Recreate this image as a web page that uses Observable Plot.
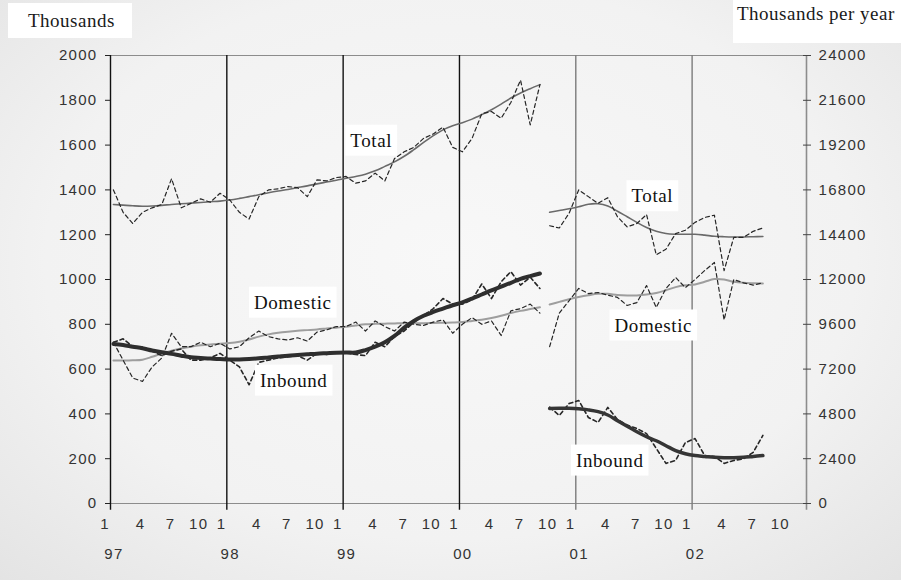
<!DOCTYPE html>
<html>
<head>
<meta charset="utf-8">
<script src="https://cdn.jsdelivr.net/npm/d3@7"></script>
<script src="https://cdn.jsdelivr.net/npm/@observablehq/plot@0.6"></script>
<style>
  body { margin: 0; background: #fff; }
  #wrap { position: relative; width: 901px; height: 580px; overflow: hidden;
    background: radial-gradient(ellipse 75% 80% at 50% 45%, #f8f8f8 0%, #f2f2f2 60%, #e2e2e2 100%); }
  #wrap svg { position: absolute; left: 0; top: 0; }
  .hdr { position: absolute; background: #fff; font-family: "Liberation Serif", serif; font-size: 19px;
    color: #1a1a1a; letter-spacing: 0.5px; white-space: nowrap; }
</style>
</head>
<body>
<div id="wrap">
  <div class="hdr" style="left:8px;top:3px;width:104px;height:35px;line-height:35px;padding-left:20px;">Thousands</div>
  <div class="hdr" style="left:733px;top:0;width:164px;height:43px;line-height:28px;padding-left:4px;">Thousands per year</div>
</div>
<script>
// Month index 0 = Jan 1997. Segment 1: Jan 1997 – Sep 2000, segment 2: Oct 2000 – Aug 2002
const seg1Start = 0;
const seg2Start = 45;

const totalRaw1 = [1400,1300,1250,1300,1320,1335,1450,1320,1340,1360,1345,1385,
  1355,1300,1270,1370,1400,1405,1415,1410,1370,1445,1440,1455,
  1460,1430,1440,1475,1440,1540,1570,1590,1630,1650,1680,1590,
  1570,1630,1740,1750,1720,1790,1890,1690,1870];
const totalTrend1 = [1335,1332,1329,1327,1328,1331,1335,1338,1341,1344,1347,1350,
  1355,1362,1370,1378,1387,1395,1402,1410,1418,1427,1435,1443,
  1452,1460,1470,1485,1505,1525,1550,1580,1612,1642,1668,1686,
  1700,1716,1736,1758,1783,1810,1833,1852,1870];
const domesticRaw1 = [720,640,560,545,610,650,760,700,700,720,700,715,
  690,700,740,770,745,735,730,740,725,765,775,790,
  790,810,770,815,790,770,810,800,795,810,820,760,
  800,830,800,815,750,860,870,890,850];
const domesticTrend1 = [638,638,639,642,655,670,682,692,700,706,710,713,
  716,722,732,745,755,762,767,771,774,777,781,785,
  789,795,800,802,803,804,805,805,805,806,807,808,
  810,815,820,828,838,850,860,868,876];
const inboundRaw1 = [720,735,700,700,680,660,680,690,640,640,650,670,
  640,610,530,630,640,650,655,660,640,670,665,675,
  672,665,660,720,700,745,770,810,840,870,915,890,
  890,910,980,915,990,1035,975,1010,960];
const inboundTrend1 = [712,708,700,693,683,675,668,660,653,650,647,645,
  643,643,645,648,652,656,660,663,666,669,671,673,
  674,674,685,700,720,748,785,815,838,855,870,885,
  898,915,933,951,968,985,1003,1015,1027];

const totalRaw2 = [1240,1230,1295,1400,1370,1340,1365,1280,1235,1250,1290,1110,1135,1205,1220,1255,1277,1287,1040,1188,1188,1215,1230];
const totalTrend2 = [1300,1308,1316,1325,1336,1338,1328,1305,1280,1255,1232,1215,1205,1202,1202,1202,1198,1193,1191,1190,1190,1191,1192];
const domesticRaw2 = [700,850,905,960,937,942,930,920,884,897,973,875,960,1009,964,1000,1040,1076,820,1000,985,975,985];
const domesticTrend2 = [888,900,912,922,930,936,936,931,929,929,933,940,952,966,974,978,990,1002,1000,990,985,983,982];
const inboundRaw2 = [430,393,446,460,384,362,429,375,350,335,312,246,179,192,272,290,214,210,179,192,200,228,304];
const inboundTrend2 = [424,425,425,423,418,410,395,370,345,320,298,280,258,236,222,214,210,206,204,204,206,210,214];

const leftTicks = [0,200,400,600,800,1000,1200,1400,1600,1800,2000];
const rightFactor = 12; // thousands per year = monthly thousands × 12
const yearLabels = ["97","98","99","00","01","02"];
const monthLabels = ["1","4","7","10"];
const monthOfLabel = [0,3,6,9];

const labelText = ["Total","Total","Domestic","Domestic","Inbound","Inbound"];
const labelMonth = [26.9, 55.9, 18.8, 56.0, 18.9, 51.5];
const labelValue = [1620, 1372, 897, 795, 549, 192];

// ---- build tables ----
const X_OFF = 0.3;
const xMax = 71.8;
const seg = (vals, start) => vals.map((v, k) => ({x: start + k + X_OFF, v}));

const monthTicks = [];
yearLabels.forEach((y, yi) => {
  monthOfLabel.forEach((m, mi) => {
    const off = m === 0 ? -0.55 : (m === 3 ? 3.1 : m === 6 ? 6.2 : 9.1);
    monthTicks.push({x: yi * 12 + off, label: monthLabels[mi]});
  });
});
const yearTicks = yearLabels.map((y, yi) => ({x: yi * 12 + 0.35, label: y}));
const yearLinesBlack = [0, 12, 24, 36];
const yearLinesGray = [48, 60];
const labels = labelText.map((t, i) => ({x: labelMonth[i], y: labelValue[i], text: t}));

const dash = {stroke: "#262626", strokeWidth: 1.2, strokeDasharray: "4,3"};
const lineOf = (data, opts) => Plot.line(data, {x: "x", y: "v", ...opts});

const chart = Plot.plot({
  width: 901,
  height: 580,
  marginLeft: 110,
  marginRight: 95,
  marginTop: 55,
  marginBottom: 77,
  style: {background: "transparent", fontFamily: "'Liberation Sans', Arial, sans-serif", fontSize: "15px", color: "#333", letterSpacing: "1.3px"},
  x: {domain: [0, xMax], axis: null},
  y: {domain: [0, 2000], axis: null},
  marks: [
    Plot.ruleY([0], {stroke: "#8c8c8c", strokeWidth: 1.2}),
    Plot.ruleY([2000], {stroke: "#8c8c8c", strokeWidth: 1.2}),
    Plot.ruleX(yearLinesBlack, {y1: 2000, y2: -30, stroke: "#111", strokeWidth: 1.4}),
    Plot.ruleX(yearLinesGray, {y1: 2000, y2: -30, stroke: "#7c7c7c", strokeWidth: 1.4}),
    Plot.ruleX([xMax], {y1: 2000, y2: -30, stroke: "#8c8c8c", strokeWidth: 1.6}),
    // trends
    lineOf(seg(totalTrend1, seg1Start), {stroke: "#6a6a6a", strokeWidth: 1.6, curve: "catmull-rom"}),
    lineOf(seg(totalTrend2, seg2Start), {stroke: "#6a6a6a", strokeWidth: 1.6, curve: "catmull-rom"}),
    lineOf(seg(domesticTrend1, seg1Start), {stroke: "#9e9e9e", strokeWidth: 2, curve: "catmull-rom"}),
    lineOf(seg(domesticTrend2, seg2Start), {stroke: "#9e9e9e", strokeWidth: 2, curve: "catmull-rom"}),
    // raw (dashed)
    lineOf(seg(totalRaw1, seg1Start), dash),
    lineOf(seg(totalRaw2, seg2Start), dash),
    lineOf(seg(domesticRaw1, seg1Start), dash),
    lineOf(seg(domesticRaw2, seg2Start), dash),
    lineOf(seg(inboundRaw1, seg1Start), {...dash, strokeWidth: 1.6}),
    lineOf(seg(inboundRaw2, seg2Start), {...dash, strokeWidth: 1.6}),
    lineOf(seg(inboundTrend1, seg1Start), {stroke: "#2e2e2e", strokeWidth: 4, curve: "catmull-rom"}),
    lineOf(seg(inboundTrend2, seg2Start), {stroke: "#353535", strokeWidth: 3.5, curve: "catmull-rom"}),
    // axes
    Plot.axisY({anchor: "left", ticks: leftTicks, tickSize: 5, tickPadding: 8, tickFormat: d => String(d), label: null, stroke: "#222"}),
    Plot.axisY({anchor: "right", ticks: leftTicks, tickSize: 8, dx: -4, tickFormat: () => "", label: null, stroke: "#444"}),
    Plot.axisY({anchor: "right", ticks: leftTicks, tickSize: 0, tickPadding: 12, tickFormat: d => String(d * rightFactor), label: null}),
    Plot.text(monthTicks, {x: "x", y: () => 0, text: "label", dy: 21, fill: "#333"}),
    Plot.text(yearTicks, {x: "x", y: () => 0, text: "label", dy: 51, fill: "#333"}),
    // series labels
    Plot.text(labels, {x: "x", y: "y", text: "text", fontFamily: "'Liberation Serif', 'Times New Roman', serif", fontSize: 19, fill: "#111", ariaDescription: "series labels"})
  ]
});

document.getElementById("wrap").appendChild(chart);

// white boxes behind series labels
const lg = chart.querySelector('g[aria-description="series labels"]');
if (lg) {
  lg.querySelectorAll("text").forEach(t => {
    t.setAttribute("letter-spacing", "0.6");
    const b = t.getBBox();
    const r = document.createElementNS("http://www.w3.org/2000/svg", "rect");
    r.setAttribute("x", b.x - 5);
    r.setAttribute("y", b.y - 5);
    r.setAttribute("width", b.width + 10);
    r.setAttribute("height", b.height + 10);
    r.setAttribute("fill", "#fff");
    if (t.getAttribute("transform")) r.setAttribute("transform", t.getAttribute("transform"));
    t.parentNode.insertBefore(r, t);
  });
}
</script>
</body>
</html>
